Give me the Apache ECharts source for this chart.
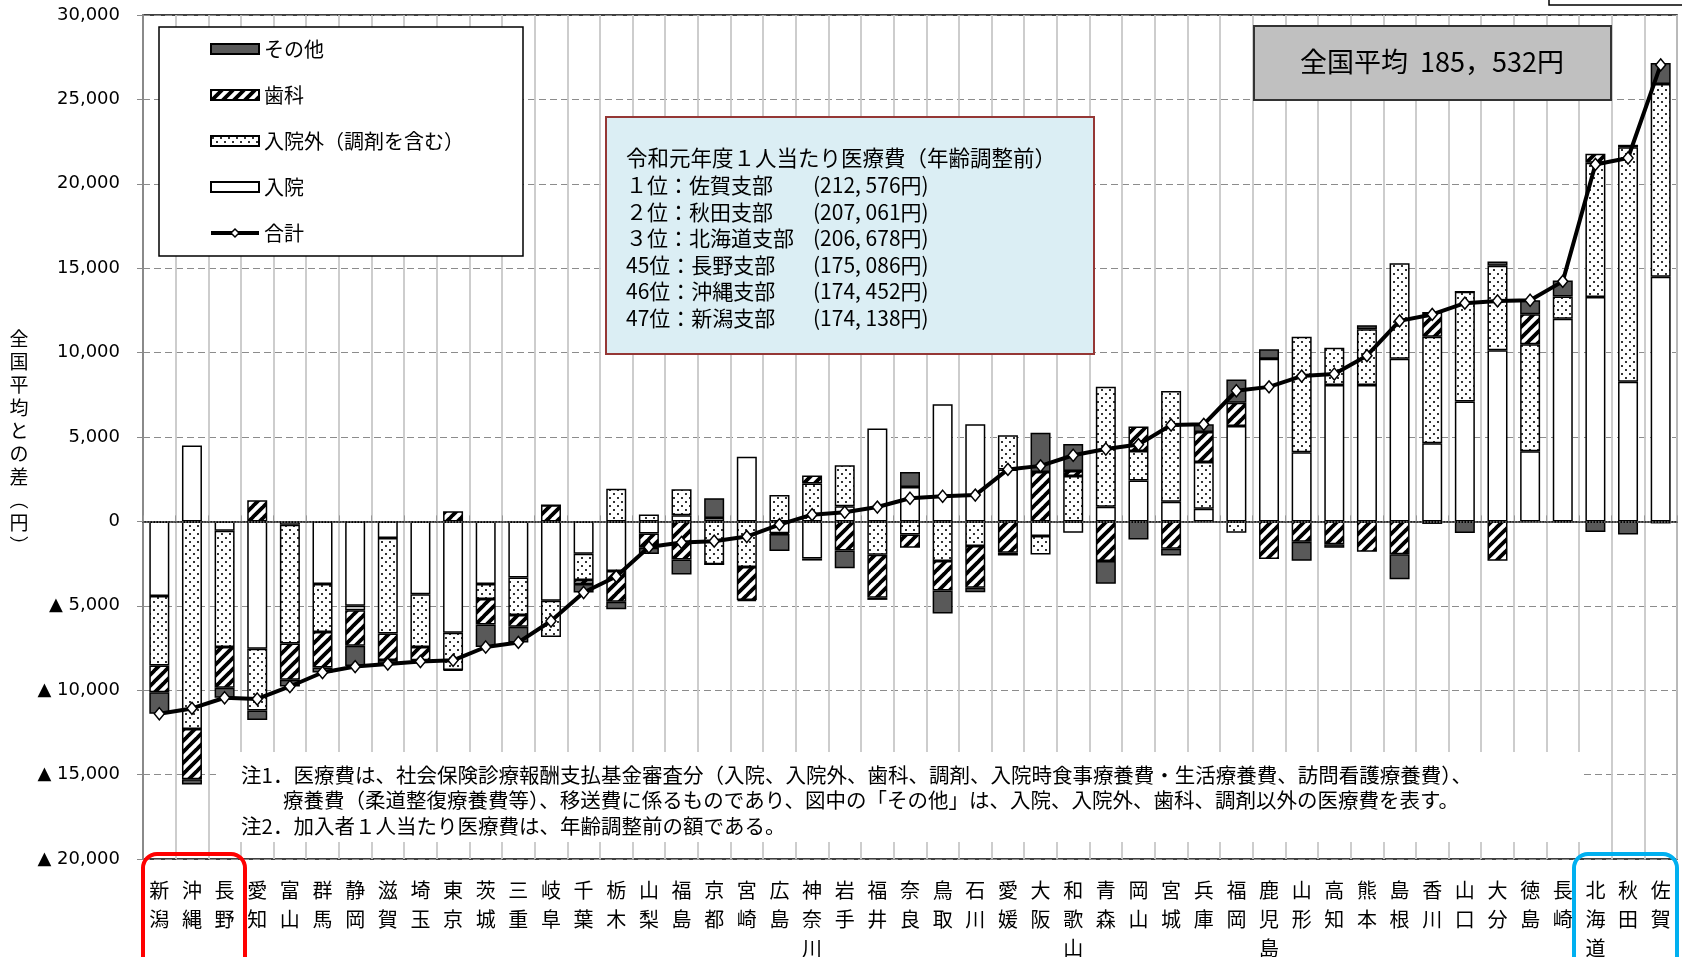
<!DOCTYPE html>
<html><head><meta charset="utf-8">
<script src="https://cdn.jsdelivr.net/npm/echarts@6/dist/echarts.min.js"></script>
<style>html,body{margin:0;padding:0;background:#fff}#c{width:1682px;height:957px}</style>
</head><body><div id="c"></div>
<script>
// ---- data (difference from national average, yen) ----
const categories = ['新潟','沖縄','長野','愛知','富山','群馬','静岡','滋賀','埼玉','東京','茨城','三重','岐阜','千葉','栃木','山梨','福島','京都','宮崎','広島','神奈川','岩手','福井','奈良','鳥取','石川','愛媛','大阪','和歌山','青森','岡山','宮城','兵庫','福岡','鹿児島','山形','高知','熊本','島根','香川','山口','大分','徳島','長崎','北海道','秋田','佐賀'];
const inpatient  = [-4420, 4500, -560,-7540, -200,-3710,-5000, -980,-4320,-6600,-3710,-3330,-4700,-1920,-2940, -710,  360,  200, 3830, -700,-2200,  900, 5500, 2040, 6940, 5750, 3080, -870, -670,  870, 2430, 1170,  750, 5650, 9640, 4100, 8080, 8080, 9640, 4630, 7100,10140, 4160,12000,13290, 8280,14500];
const outpatient = [-4110,-12300,-6880,-3670,-7040,-2840, -260,-5660,-3120,-2200, -890,-2220,-2150,-1550, 1940,  410, 1540,-2540,-2700, 1560, 2250, 2420,-1970, -770,-2350,-1460, 2020,-1090, 2690, 7110, 1740, 6560, 2770, -670,    0, 6840, 2210, 3300, 5660, 6310, 6510, 5010, 6340, 1330, 7960,13880,11410];
const dental     = [-1590,-2980,-2410, 1250,-2140,-2100,-2100,-1570, -780,  600,-1510, -690,  950, -240,-1820, -850,-2250,    0,-1950,  -50,  470,-1730,-2560, -790,-1740,-2470,-1860, 2920,  300,-2350, 1450,-1620, 1780, 1380,-2230,-1210,-1360,-1800,-1950, 1470,    0,-2330, 1770,  -50,  530,  150, -120];
const other      = [-1270, -300, -596, -560, -400, -300,-1200, -240,  -80,  -40,-1330, -930,    0, -500, -440, -370, -900, 1170,  -80,-1000, -120,-1050, -120,  890,-1360, -260, -160, 2330, 1600,-1340,-1070, -400,  450, 1380,  560,-1120, -200,  240,-1470, -150, -680,  240,  830,  940, -630, -780, 1250];
const total      = [-11394,-11080,-10446,-10520,-9780,-8950,-8600,-8450,-8300,-8230,-7440,-7170,-5900,-4210,-3260,-1520,-1250,-1170, -900, -190,  400,  540,  850, 1370, 1490, 1560, 3080, 3290, 3920, 4290, 4550, 5710, 5750, 7740, 7970, 8610, 8730, 9820,11880,12260,12930,13060,13100,14220,21146,21529,27044];
const yMin = -20000, yMax = 30000, yStep = 5000;
const infoTitle = '令和元年度１人当たり医療費（年齢調整前）';
const rankNames = ['１位：佐賀支部','２位：秋田支部','３位：北海道支部','45位：長野支部','46位：沖縄支部','47位：新潟支部'];
const rankValues = ['(212, 576円)','(207, 061円)','(206, 678円)','(175, 086円)','(174, 452円)','(174, 138円)'];
const avgText = '全国平均  185，532円';
const notes = ['注1．医療費は、社会保険診療報酬支払基金審査分（入院、入院外、歯科、調剤、入院時食事療養費・生活療養費、訪問看護療養費）、',
               '療養費（柔道整復療養費等）、移送費に係るものであり、図中の「その他」は、入院、入院外、歯科、調剤以外の医療費を表す。',
               '注2．加入者１人当たり医療費は、年齢調整前の額である。'];
const yName = '全国平均との差︵円︶';

// ---- patterns ----
function hatchTile(){
  const s=11, c=document.createElement('canvas'); c.width=c.height=s;
  const g=c.getContext('2d'); g.fillStyle='#fff'; g.fillRect(0,0,s,s);
  g.strokeStyle='#000'; g.lineWidth=3.8; g.beginPath();
  for(let k=-1;k<=1;k++){ g.moveTo(k*s-1, s+1); g.lineTo(k*s+s+1, -1); }
  g.stroke(); return c;
}
function dotTile(){
  const s=8, c=document.createElement('canvas'); c.width=c.height=s;
  const g=c.getContext('2d'); g.fillStyle='#fff'; g.fillRect(0,0,s,s);
  g.fillStyle='#333'; g.fillRect(1,1,2,2); g.fillRect(5,5,2,2); return c;
}
const hatch = {image: hatchTile(), repeat:'repeat'};
const dots = {image: dotTile(), repeat:'repeat'};

const CJK = '"Noto Sans CJK JP", sans-serif';
const chart = echarts.init(document.getElementById('c'), null, {renderer:'canvas'});
const barBase = {type:'bar', stack:'total', barWidth:20, stackStrategy:'samesign'};
const border = {borderColor:'#000', borderWidth:1.5};

const graphics = [
  {type:'rect', z:50, shape:{x:1549,y:-6,width:200,height:11}, style:{fill:'#fff', stroke:'#000', lineWidth:1.5}},
  {type:'rect', z:50, shape:{x:159,y:27,width:364,height:229}, style:{fill:'#fff', stroke:'#000', lineWidth:1.5}},
  {type:'rect', z:50, shape:{x:606,y:117,width:488,height:237}, style:{fill:'#dbeef4', stroke:'#953735', lineWidth:2}},
  {type:'text', z:51, style:{text:infoTitle, x:626, y:158, font:'21.5px '+CJK, fill:'#000', verticalAlign:'middle'}},
  {type:'rect', z:50, shape:{x:1254,y:26,width:357,height:74}, style:{fill:'#c0c0c0', stroke:'#333', lineWidth:2}},
  {type:'text', z:51, style:{text:avgText, x:1432, y:62, font:'27px '+CJK, fill:'#000', align:'center', verticalAlign:'middle'}},
  {type:'rect', z:50, shape:{x:220,y:752,width:1363,height:90}, style:{fill:'#fff'}},
  {type:'text', z:51, style:{text:notes[0], x:241, y:775, font:'20.5px '+CJK, fill:'#000', verticalAlign:'middle'}},
  {type:'text', z:51, style:{text:notes[1], x:283, y:800, font:'20.5px '+CJK, fill:'#000', verticalAlign:'middle'}},
  {type:'text', z:51, style:{text:notes[2], x:241, y:826, font:'20.5px '+CJK, fill:'#000', verticalAlign:'middle'}},
  {type:'text', z:51, style:{text:yName.split('').join('\n'), x:19, y:442, font:'19px '+CJK, lineHeight:23, fill:'#000', align:'center', verticalAlign:'middle'}},
  {type:'rect', z:60, shape:{x:143,y:854,width:102,height:130,r:14}, style:{fill:'none', stroke:'#ff0000', lineWidth:4}},
  {type:'rect', z:60, shape:{x:1574,y:854,width:103,height:130,r:14}, style:{fill:'none', stroke:'#00b0f0', lineWidth:4}}
];
rankNames.forEach((t,i)=>{
  graphics.push({type:'text', z:51, style:{text:t, x:626, y:185+i*26.6, font:'21px '+CJK, fill:'#000', verticalAlign:'middle'}});
  graphics.push({type:'text', z:51, style:{text:rankValues[i], x:813, y:185+i*26.6, font:'21px '+CJK, fill:'#000', verticalAlign:'middle'}});
});

chart.setOption({
  animation:false,
  backgroundColor:'#fff',
  grid:{left:143, right:5, top:15, bottom:98, outerBoundsMode:'none', containLabel:false,
        show:true, borderColor:'#000', borderWidth:1.5, backgroundColor:'transparent'},
  legend:{
    z:60, orient:'vertical', left:209, top:39, padding:0, itemWidth:48, itemHeight:10, itemGap:26,
    textStyle:{fontSize:20, lineHeight:20, fontFamily:CJK, color:'#000'},
    data:[{name:'その他',icon:'rect'},{name:'歯科',icon:'rect'},{name:'入院外（調剤を含む）',icon:'rect'},{name:'入院',icon:'rect'},
          {name:'合計', lineStyle:{width:4, color:'#000'}, itemStyle:{color:'#fff', borderColor:'#000', borderWidth:1.5}}]
  },
  xAxis:{
    type:'category', data:categories, boundaryGap:true,
    axisLine:{lineStyle:{color:'#000', width:1.5}},
    axisTick:{show:true, inside:true, length:6, lineStyle:{color:'#999'}},
    splitLine:{show:true, lineStyle:{color:'#c8c8c8', width:1.8}},
    axisLabel:{interval:0, margin:17, fontSize:20, lineHeight:29, fontFamily:CJK, color:'#000',
      formatter:v=>v.split('').join('\n')}
  },
  yAxis:{
    type:'value', min:yMin, max:yMax, interval:yStep,
    axisLine:{show:true, lineStyle:{color:'#8a8a8a', width:2}},
    axisTick:{show:true, length:6, lineStyle:{color:'#8a8a8a'}},
    splitLine:{show:true, lineStyle:{color:'#8c8c8c', width:1.2, type:[7,4]}},
    axisLabel:{margin:23, fontSize:18, fontFamily:'"DejaVu Sans", sans-serif', color:'#000',
      formatter:v=>{const s=Math.abs(v).toLocaleString('en-US'); return v<0?'▲ '+s:s;}}
  },
  graphic:graphics,
  series:[
    {...barBase, name:'入院', data:inpatient, itemStyle:{color:'#fff', ...border},
      markLine:{silent:true, symbol:'none', label:{show:false}, data:[{yAxis:0}], lineStyle:{type:'dotted', color:'#777', width:1.5}}},
    {...barBase, name:'入院外（調剤を含む）', data:outpatient, itemStyle:{color:dots, ...border}},
    {...barBase, name:'歯科', data:dental, itemStyle:{color:hatch, ...border}},
    {...barBase, name:'その他', data:other, itemStyle:{color:'#595959', ...border}},
    {type:'line', name:'合計', data:total, z:5, symbol:'diamond', symbolSize:[10,12],
      lineStyle:{color:'#000', width:4}, itemStyle:{color:'#fff', borderColor:'#000', borderWidth:1.5}}
  ]
});
</script></body></html>
